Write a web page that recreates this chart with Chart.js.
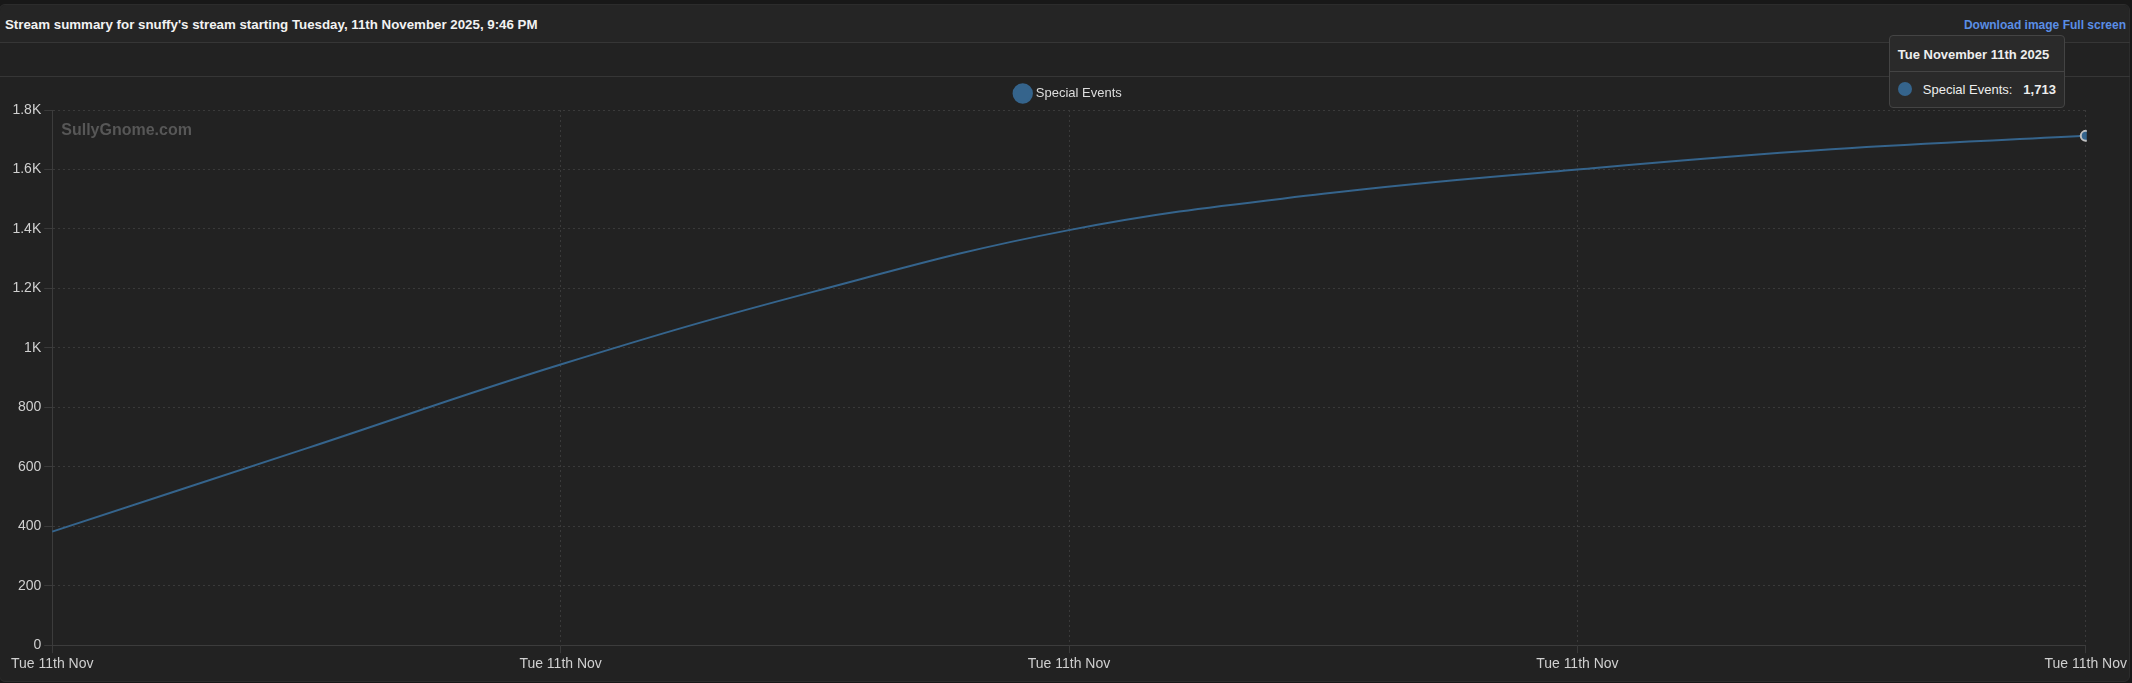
<!DOCTYPE html>
<html><head><meta charset="utf-8">
<script src="https://cdn.jsdelivr.net/npm/chart.js@4/dist/chart.umd.min.js"></script>
<style>
html,body{margin:0;padding:0;background:#181818;width:2132px;height:683px;overflow:hidden;font-family:"Liberation Sans",Arial,sans-serif;}
#panel{position:absolute;left:-1px;top:4px;width:2131px;height:678px;background:#222222;border:1px solid #2c2c2c;border-radius:6px;box-sizing:border-box;}
#head{position:absolute;left:0;top:5px;width:2129px;height:37px;background:#252525;border-radius:6px 6px 0 0;}
.hl{position:absolute;left:0;width:2130px;height:1px;background:#363636;}
#title{position:absolute;left:5px;top:17px;font-weight:bold;font-size:13.3px;color:#f2f2f2;white-space:nowrap;}
#links{position:absolute;right:6px;top:18px;font-weight:bold;font-size:12px;color:#5a8ee6;white-space:nowrap;}
#wrap{position:absolute;left:8px;top:77px;width:2122px;height:605px;}
#tip{position:absolute;background:#2a2a2a;border:1px solid #444;border-radius:4px;color:#eee;font-size:13px;box-sizing:border-box;}
#tip .t{height:35px;line-height:37px;padding:0 8px;font-weight:bold;border-bottom:1px solid #444;white-space:nowrap;}
#tip .b{height:35px;display:flex;align-items:center;padding:0 8px;white-space:nowrap;}
#tip .dot{width:14px;height:14px;border-radius:50%;margin-right:11px;}
#tip .v{font-weight:bold;margin-left:11px;}
</style></head>
<body>
<div id="panel"></div>
<div id="head"></div>
<div class="hl" style="top:42px"></div>
<div class="hl" style="top:76px"></div>
<div id="title">Stream summary for snuffy's stream starting Tuesday, 11th November 2025, 9:46 PM</div>
<div id="links">Download image Full screen</div>
<div id="wrap"><canvas id="c" width="2122" height="605"></canvas></div>
<div id="tip"></div>
<script>
const seriesName = 'Special Events';
const tickLabels = ['Tue 11th Nov','Tue 11th Nov','Tue 11th Nov','Tue 11th Nov','Tue 11th Nov','Tue 11th Nov','Tue 11th Nov','Tue 11th Nov','Tue 11th Nov'];
const tooltipDates = ['Tue November 11th 2025','Tue November 11th 2025','Tue November 11th 2025','Tue November 11th 2025','Tue November 11th 2025','Tue November 11th 2025','Tue November 11th 2025','Tue November 11th 2025','Tue November 11th 2025'];
const specialEvents = [382, 662, 944, 1190, 1396, 1518, 1600, 1668, 1713];
const yTicks = [0, 200, 400, 600, 800, 1000, 1200, 1400, 1600, 1800];

const lineColor = '#35648c';
const FONT = '"Liberation Sans", Arial, sans-serif';
Chart.defaults.font.family = FONT;
Chart.defaults.color = '#d0d0d0';

const watermark = {
  id: 'wm',
  beforeDatasetsDraw(c) {
    const a = c.chartArea, ctx = c.ctx;
    ctx.save();
    ctx.font = 'bold 16px ' + FONT;
    ctx.fillStyle = '#575757';
    ctx.textBaseline = 'middle';
    ctx.fillText('SullyGnome.com', a.left + 9, a.top + 21);
    ctx.restore();
  }
};

const gridCol = '#3a3a3a';
const chart = new Chart(document.getElementById('c'), {
  type: 'line',
  data: {
    labels: tickLabels,
    datasets: [{
      label: seriesName,
      data: specialEvents,
      borderColor: lineColor,
      backgroundColor: lineColor,
      borderWidth: 2,
      tension: 0.4,
      pointRadius: 0,
      pointHoverRadius: 5,
      pointHoverBorderWidth: 2,
      pointHoverBorderColor: '#c0c0c0',
      pointHoverBackgroundColor: lineColor,
      fill: false
    }]
  },
  options: {
    responsive: false,
    animation: false,
    events: [],
    layout: { padding: { left: 0, right: 0, top: 0, bottom: 6 } },
    plugins: {
      legend: {
        position: 'top',
        labels: { usePointStyle: true, pointStyle: 'circle', color: '#dddddd', font: { size: 13 }, padding: 10 }
      },
      tooltip: { enabled: false }
    },
    scales: {
      x: {
        type: 'category',
        ticks: {
          autoSkip: false, maxRotation: 0, color: '#d0d0d0', font: { size: 14 }, padding: 3,
          callback: (v, i) => (i % 2 === 0 ? tickLabels[i] : '')
        },
        grid: {
          color: (ctx) => (ctx.index % 2 === 0 ? gridCol : 'rgba(0,0,0,0)'),
          tickColor: (ctx) => (ctx.index % 2 === 0 ? gridCol : 'rgba(0,0,0,0)'),
          tickLength: 8
        },
        border: { color: '#3c3c3c', dash: [2, 3] }
      },
      y: {
        min: yTicks[0], max: yTicks[yTicks.length - 1],
        afterBuildTicks: (s) => { s.ticks = yTicks.map(v => ({ value: v })); },
        ticks: {
          color: '#d0d0d0', font: { size: 14 }, padding: 3,
          callback: (v) => (v >= 1000 ? (v / 1000) + 'K' : String(v))
        },
        grid: { color: gridCol, tickColor: gridCol, tickLength: 8 },
        border: { color: '#3c3c3c', dash: [2, 3] }
      }
    }
  },
  plugins: [watermark]
});

const last = specialEvents.length - 1;
chart.setActiveElements([{ datasetIndex: 0, index: last }]);
chart.update('none');

const el = chart.getDatasetMeta(0).data[last];
const tip = document.getElementById('tip');
tip.innerHTML = '<div class="t">' + tooltipDates[last] + '</div>' +
  '<div class="b"><span class="dot" style="background:' + lineColor + '"></span>' +
  '<span>' + seriesName + ':</span><span class="v">' + specialEvents[last].toLocaleString('en-US') + '</span></div>';
const wrap = document.getElementById('wrap');
const w = tip.offsetWidth, h = tip.offsetHeight;
tip.style.left = (wrap.offsetLeft + el.x - 21 - w) + 'px';
tip.style.top = (wrap.offsetTop + el.y - 28 - h) + 'px';
</script>
</body></html>
